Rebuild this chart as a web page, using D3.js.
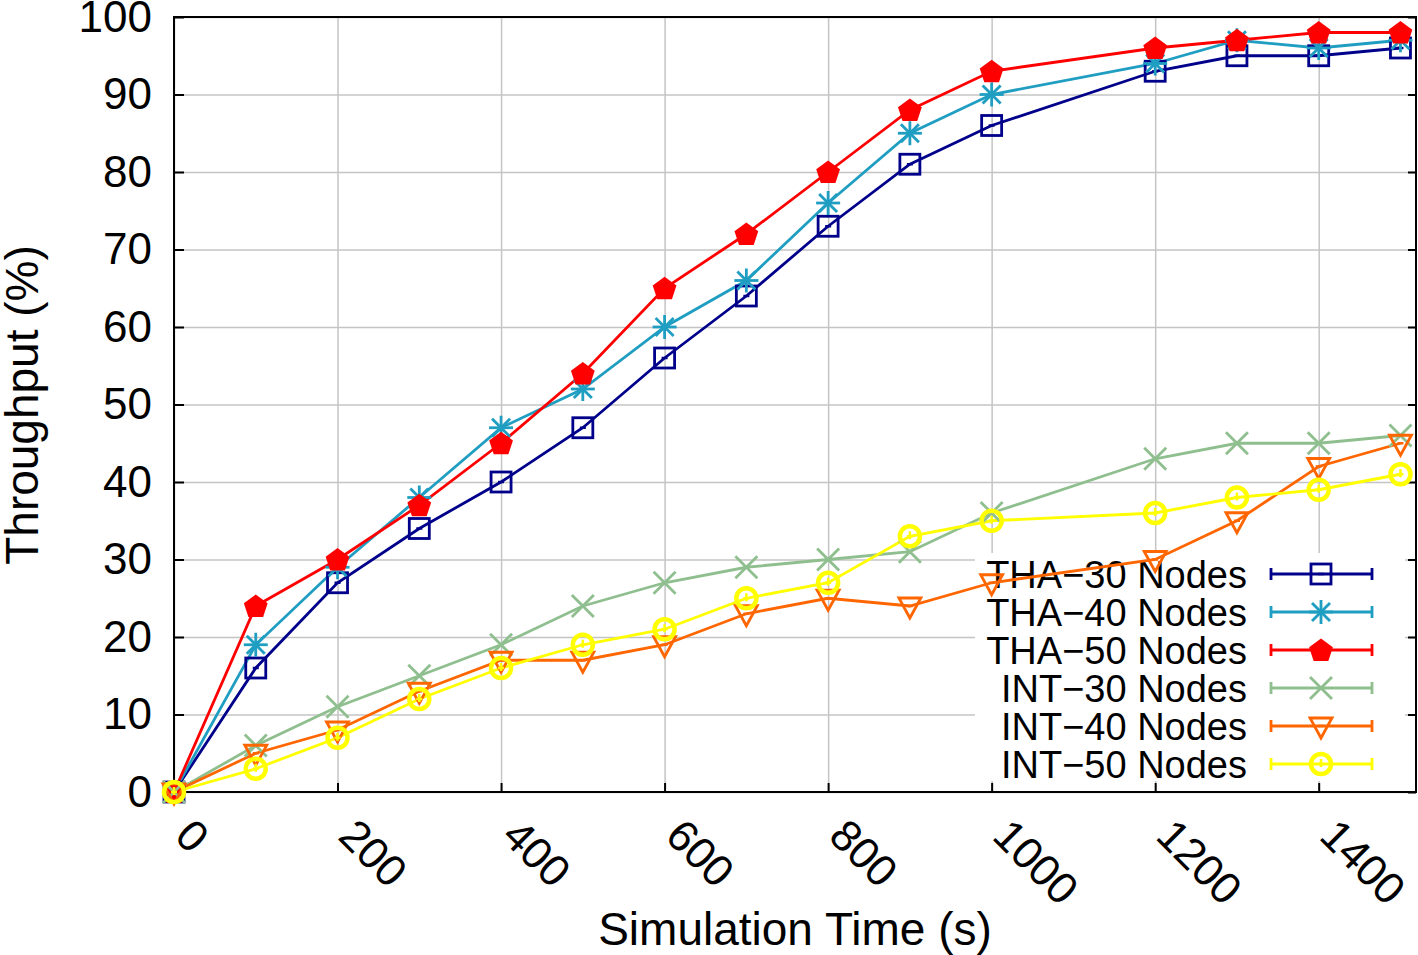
<!DOCTYPE html>
<html>
<head>
<meta charset="utf-8">
<script src="https://cdn.jsdelivr.net/npm/d3@7"></script>
<style>
  html, body { margin: 0; padding: 0; background: #fff; }
  svg { display: block; }
  text { font-family: "Liberation Sans", Arial, Helvetica, sans-serif; fill: #000; }
</style>
</head>
<body>
<svg id="chart" width="1418" height="955"></svg>
<script>
// ---- data ----
const times = [0, 100, 200, 300, 400, 500, 600, 700, 800, 900, 1000, 1200, 1300, 1400, 1500];
const tha30 = [0, 16, 27, 34, 40, 47, 56, 64, 73, 81, 86, 93, 95, 95, 96];
const tha40 = [0, 19, 29, 38, 47, 52, 60, 66, 76, 85, 90, 94, 97, 96, 97];
const tha50 = [0, 24, 30, 37, 45, 54, 65, 72, 80, 88, 93, 96, 97, 98, 98];
const int30 = [0, 6, 11, 15, 19, 24, 27, 29, 30, 31, 36, 43, 45, 45, 46];
const int40 = [0, 5, 8, 13, 17, 17, 19, 23, 25, 24, 27, 30, 35, 42, 45];
const int50 = [0, 3, 7, 12, 16, 19, 21, 25, 27, 33, 35, 36, 38, 39, 41];
const seriesNames = ["THA\u221230 Nodes", "THA\u221240 Nodes", "THA\u221250 Nodes",
                     "INT\u221230 Nodes", "INT\u221240 Nodes", "INT\u221250 Nodes"];
const xTicks = [0, 200, 400, 600, 800, 1000, 1200, 1400];
const yTicks = [0, 10, 20, 30, 40, 50, 60, 70, 80, 90, 100];
const xLabel = "Simulation Time (s)";
const yLabel = "Throughput (%)";

const seriesValues = [tha30, tha40, tha50, int30, int40, int50];
const colors = ["#00008b", "#1f9ec2", "#ff0000", "#8fbf8f", "#ff6600", "#ffff00"];
const markers = ["square", "star", "pentagon", "cross", "triangle", "circle"];

// ---- layout ----
const pLeft = 174, pRight = 1416, pTop = 17, pBottom = 792;
const svg = d3.select("#chart");
const x = d3.scaleLinear().domain([0, 1519]).range([pLeft, pRight]);
const y = d3.scaleLinear().domain([0, 100]).range([pBottom, pTop]);

// grid
const grid = svg.append("g").attr("class", "grid");
grid.append("g").attr("transform", `translate(0,${pBottom})`)
  .call(d3.axisBottom(x).tickValues(xTicks).tickSize(-(pBottom - pTop)).tickFormat(""))
  .call(g => g.select(".domain").remove())
  .call(g => g.selectAll("line").attr("stroke", "#c4c4c4").attr("stroke-width", 1.5));
grid.append("g").attr("transform", `translate(${pLeft},0)`)
  .call(d3.axisLeft(y).tickValues(yTicks).tickSize(-(pRight - pLeft)).tickFormat(""))
  .call(g => g.select(".domain").remove())
  .call(g => g.selectAll("line").attr("stroke", "#c4c4c4").attr("stroke-width", 1.5));

// legend background (covers grid only)
const legX0 = 975, legX1 = 1405, legY0 = 553, legY1 = 781;
svg.append("rect").attr("x", legX0).attr("y", legY0)
  .attr("width", legX1 - legX0).attr("height", legY1 - legY0).attr("fill", "#fff");

// axes
const axisStyle = g => {
  g.select(".domain").remove();
  g.selectAll("line").attr("stroke", "#000").attr("stroke-width", 2);
  g.selectAll("text").style("font-size", "44px").style("font-family", '"Liberation Sans", Arial, sans-serif');
};
svg.append("g").attr("transform", `translate(${pLeft},0)`)
  .call(d3.axisLeft(y).tickValues(yTicks).tickSize(-10).tickPadding(22))
  .call(axisStyle);
svg.append("g").attr("transform", `translate(${pRight},0)`)
  .call(d3.axisRight(y).tickValues(yTicks).tickSize(-8).tickFormat(""))
  .call(axisStyle);
svg.append("g").attr("transform", `translate(0,${pBottom})`)
  .call(d3.axisBottom(x).tickValues(xTicks).tickSize(-9).tickFormat(""))
  .call(axisStyle);
// rotated x tick labels
svg.append("g").selectAll("text").data(xTicks).join("text")
  .attr("transform", d => `translate(${x(d) - 1},${pBottom + 46}) rotate(45)`)
  .attr("text-anchor", "start")
  .style("font-size", "44px")
  .text(d => d);

// border
svg.append("rect").attr("x", pLeft).attr("y", pTop)
  .attr("width", pRight - pLeft).attr("height", pBottom - pTop)
  .attr("fill", "none").attr("stroke", "#000").attr("stroke-width", 2);

// axis titles
svg.append("text").attr("x", 795).attr("y", 945).attr("text-anchor", "middle")
  .style("font-size", "46px").text(xLabel);
svg.append("text").attr("transform", "translate(38,405) rotate(-90)").attr("text-anchor", "middle")
  .style("font-size", "46px").text(yLabel);

// marker drawing
function drawMarker(g, type, color) {
  const sw = 2.8;
  if (type === "square") {
    g.append("rect").attr("x", -10).attr("y", -10).attr("width", 20).attr("height", 20)
      .attr("fill", "none").attr("stroke", color).attr("stroke-width", sw);
  } else if (type === "star") {
    const r = 12;
    const pts = [[0, -r, 0, r], [-r, 0, r, 0], [-r * .75, -r * .75, r * .75, r * .75], [-r * .75, r * .75, r * .75, -r * .75]];
    pts.forEach(p => g.append("line").attr("x1", p[0]).attr("y1", p[1]).attr("x2", p[2]).attr("y2", p[3])
      .attr("stroke", color).attr("stroke-width", sw));
  } else if (type === "pentagon") {
    const r = 12.5;
    const pts = d3.range(5).map(i => {
      const a = -Math.PI / 2 + i * 2 * Math.PI / 5;
      return [r * Math.cos(a), r * Math.sin(a) + 1];
    });
    g.append("polygon").attr("points", pts.map(p => p.join(",")).join(" ")).attr("fill", color);
  } else if (type === "cross") {
    const r = 11;
    g.append("line").attr("x1", -r).attr("y1", -r).attr("x2", r).attr("y2", r).attr("stroke", color).attr("stroke-width", sw);
    g.append("line").attr("x1", -r).attr("y1", r).attr("x2", r).attr("y2", -r).attr("stroke", color).attr("stroke-width", sw);
  } else if (type === "triangle") {
    g.append("polygon").attr("points", "-11,-8 11,-8 0,12")
      .attr("fill", "none").attr("stroke", color).attr("stroke-width", sw);
  } else if (type === "circle") {
    g.append("circle").attr("r", 10).attr("fill", "none").attr("stroke", color).attr("stroke-width", 4.5);
    g.append("line").attr("x1", 0).attr("y1", -5).attr("x2", 0).attr("y2", 3).attr("stroke", color).attr("stroke-width", 2.5);
  }
  if (type === "square" || type === "circle" || type === "triangle") {
    g.append("line").attr("x1", -3).attr("y1", 0).attr("x2", 3).attr("y2", 0).attr("stroke", color).attr("stroke-width", 2.5);
  }
}

// legend entries
const legRowY = i => 574 + i * 38;
seriesNames.forEach((name, i) => {
  const ly = legRowY(i);
  svg.append("text").attr("x", 1247).attr("y", ly).attr("dy", "0.36em")
    .attr("text-anchor", "end").style("font-size", "38px").text(name);
  const lg = svg.append("g");
  lg.append("line").attr("x1", 1271).attr("x2", 1372).attr("y1", ly).attr("y2", ly)
    .attr("stroke", colors[i]).attr("stroke-width", 2.8);
  [1271, 1372].forEach(cx => lg.append("line").attr("x1", cx).attr("x2", cx)
    .attr("y1", ly - 6).attr("y2", ly + 6).attr("stroke", colors[i]).attr("stroke-width", 2.8));
  drawMarker(lg.append("g").attr("transform", `translate(1321,${ly})`), markers[i], colors[i]);
});

// series lines and markers
const line = d3.line().x((d, i) => x(times[i])).y(d => y(d));
seriesValues.forEach((vals, s) => {
  svg.append("path").datum(vals).attr("d", line)
    .attr("fill", "none").attr("stroke", colors[s]).attr("stroke-width", 2.8);
});
seriesValues.forEach((vals, s) => {
  vals.forEach((v, i) => {
    drawMarker(svg.append("g").attr("transform", `translate(${x(times[i])},${y(v)})`), markers[s], colors[s]);
  });
});
</script>
</body>
</html>
